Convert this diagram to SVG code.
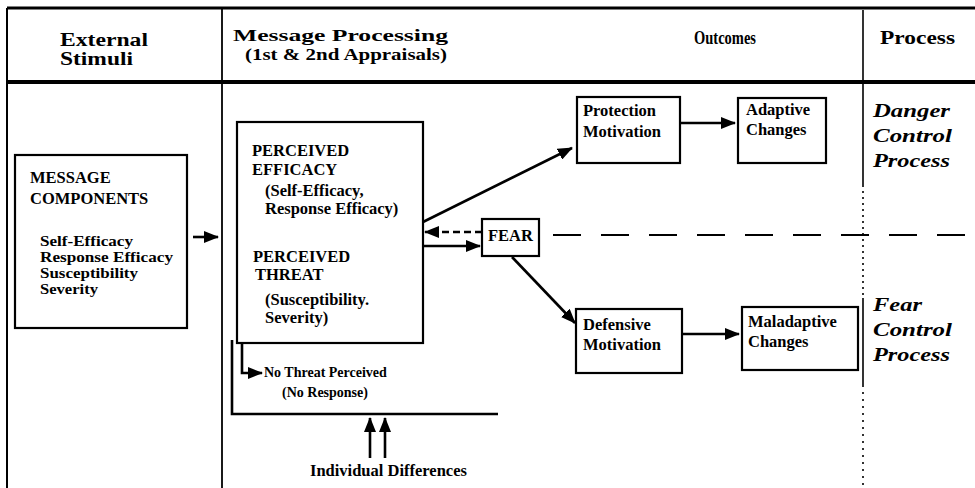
<svg xmlns="http://www.w3.org/2000/svg" width="975" height="488" viewBox="0 0 975 488">
<style>
  .frame{stroke:#000;fill:none}
  .box{fill:#fff;stroke:#000;stroke-width:2.2}
  .hd{font-family:"Liberation Serif","Times New Roman",serif;font-weight:bold;font-size:18.5px;fill:#000}
  .hm{font-family:"Liberation Serif","Times New Roman",serif;font-weight:bold;font-size:16.5px;fill:#000}
  .t{font-family:"Liberation Serif","Times New Roman",serif;font-weight:bold;font-size:16.5px;fill:#000}
  .m{font-family:"Liberation Serif","Times New Roman",serif;font-weight:bold;font-size:14px;fill:#000}
  .s{font-family:"Liberation Serif","Times New Roman",serif;font-weight:bold;font-size:14px;fill:#000}
  .pr{font-family:"Liberation Serif","Times New Roman",serif;font-weight:bold;font-style:italic;font-size:19px;fill:#000}
  .c{stroke:#000;stroke-width:2.6;fill:none}
  .dash{stroke:#000;stroke-width:2.2;fill:none;stroke-dasharray:28 20}
</style>
<defs>
  <marker id="ah" markerUnits="userSpaceOnUse" markerWidth="15" markerHeight="12" refX="14" refY="6" orient="auto">
    <path d="M0,0 L15,6 L0,12 z" fill="#000"/>
  </marker>
</defs>
<rect x="0" y="0" width="975" height="488" fill="#fff"/>

<g id="table">
  <line class="frame" x1="7" y1="8" x2="975" y2="8" stroke-width="3"/>
  <line class="frame" x1="7" y1="8" x2="7" y2="488" stroke-width="2"/>
  <line class="frame" x1="7" y1="82" x2="975" y2="82" stroke-width="4"/>
  <line class="frame" x1="222" y1="8" x2="222" y2="488" stroke-width="1.8"/>
  <line class="frame" x1="863" y1="10" x2="863" y2="185" stroke-width="1.6"/>
  <line class="frame" x1="863" y1="185" x2="863" y2="298" stroke-width="1.6" stroke-dasharray="2 4"/>
  <line class="frame" x1="863" y1="298" x2="863" y2="385" stroke-width="1.6"/>
  <line class="frame" x1="863" y1="385" x2="863" y2="488" stroke-width="1.6" stroke-dasharray="2 5"/>
  <text class="hd" x="60" y="46" textLength="88" lengthAdjust="spacingAndGlyphs">External</text>
  <text class="hd" x="60" y="65" textLength="73" lengthAdjust="spacingAndGlyphs">Stimuli</text>
  <text class="hm" x="233" y="41" textLength="215" lengthAdjust="spacingAndGlyphs">Message  Processing</text>
  <text class="hm" x="245" y="60" textLength="202" lengthAdjust="spacingAndGlyphs">(1st &amp; 2nd Appraisals)</text>
  <text class="hd" x="694" y="44" textLength="62" lengthAdjust="spacingAndGlyphs">Outcomes</text>
  <text class="hd" x="880" y="44" textLength="75" lengthAdjust="spacingAndGlyphs">Process</text>
  <text class="pr" x="873" y="117" textLength="77" lengthAdjust="spacingAndGlyphs">Danger</text>
  <text class="pr" x="873" y="142" textLength="79" lengthAdjust="spacingAndGlyphs">Control</text>
  <text class="pr" x="873" y="167" textLength="77" lengthAdjust="spacingAndGlyphs">Process</text>
  <text class="pr" x="873" y="311" textLength="49" lengthAdjust="spacingAndGlyphs">Fear</text>
  <text class="pr" x="873" y="336" textLength="79" lengthAdjust="spacingAndGlyphs">Control</text>
  <text class="pr" x="873" y="361" textLength="77" lengthAdjust="spacingAndGlyphs">Process</text>
</g>

<g id="connectors">
  <line class="c" x1="193" y1="237" x2="218" y2="237" marker-end="url(#ah)"/>
  <line class="c" x1="423" y1="222" x2="572" y2="148" marker-end="url(#ah)"/>
  <line class="c" x1="482" y1="232" x2="425" y2="232" stroke-dasharray="7 4" marker-end="url(#ah)"/>
  <line class="c" x1="423" y1="246" x2="480" y2="246" marker-end="url(#ah)"/>
  <line class="c" x1="512" y1="257" x2="575" y2="323" marker-end="url(#ah)"/>
  <line class="c" x1="680" y1="123" x2="735" y2="123" marker-end="url(#ah)"/>
  <line class="c" x1="682" y1="334" x2="739" y2="334" marker-end="url(#ah)"/>
  <path class="c" d="M242,343 V373 H262" marker-end="url(#ah)"/>
  <path class="c" d="M232,340 V414 H498" stroke-width="2.2"/>
  <line class="c" x1="370" y1="458" x2="370" y2="418" marker-end="url(#ah)"/>
  <line class="c" x1="385" y1="458" x2="385" y2="418" marker-end="url(#ah)"/>
  <line class="dash" x1="553" y1="235" x2="975" y2="235"/>
</g>

<g id="message-components">
  <rect class="box" x="15" y="155" width="172" height="173"/>
  <text class="t" x="30" y="183">MESSAGE</text>
  <text class="t" x="30" y="204">COMPONENTS</text>
  <text class="m" x="40" y="246" textLength="93" lengthAdjust="spacingAndGlyphs">Self-Efficacy</text>
  <text class="m" x="40" y="262" textLength="133" lengthAdjust="spacingAndGlyphs">Response Efficacy</text>
  <text class="m" x="40" y="278" textLength="98" lengthAdjust="spacingAndGlyphs">Susceptibility</text>
  <text class="m" x="40" y="294" textLength="58" lengthAdjust="spacingAndGlyphs">Severity</text>
</g>

<g id="perceived">
  <rect class="box" x="237" y="122" width="186" height="221"/>
  <text class="t" x="252" y="156">PERCEIVED</text>
  <text class="t" x="252" y="175">EFFICACY</text>
  <text class="t" x="265" y="196">(Self-Efficacy,</text>
  <text class="t" x="265" y="214">Response Efficacy)</text>
  <text class="t" x="253" y="262">PERCEIVED</text>
  <text class="t" x="255" y="280">THREAT</text>
  <text class="t" x="265" y="305">(Susceptibility.</text>
  <text class="t" x="265" y="323">Severity)</text>
</g>

<g id="fear">
  <rect class="box" x="482" y="219" width="57" height="37"/>
  <text class="t" x="510.5" y="241" text-anchor="middle">FEAR</text>
</g>

<g id="protection-motivation">
  <rect class="box" x="577" y="97" width="103" height="66"/>
  <text class="t" x="583" y="116">Protection</text>
  <text class="t" x="583" y="137">Motivation</text>
</g>

<g id="adaptive-changes">
  <rect class="box" x="738" y="98" width="88" height="65"/>
  <text class="t" x="746" y="115">Adaptive</text>
  <text class="t" x="746" y="135">Changes</text>
</g>

<g id="defensive-motivation">
  <rect class="box" x="576" y="309" width="106" height="64"/>
  <text class="t" x="583" y="330">Defensive</text>
  <text class="t" x="583" y="350">Motivation</text>
</g>

<g id="maladaptive-changes">
  <rect class="box" x="742" y="307" width="116" height="63"/>
  <text class="t" x="748" y="327">Maladaptive</text>
  <text class="t" x="748" y="347">Changes</text>
</g>

<g id="no-threat">
  <text class="s" x="264" y="377">No Threat Perceived</text>
  <text class="s" x="282" y="397">(No Response)</text>
</g>

<g id="individual-differences">
  <text class="t" x="310" y="476">Individual Differences</text>
</g>
</svg>
